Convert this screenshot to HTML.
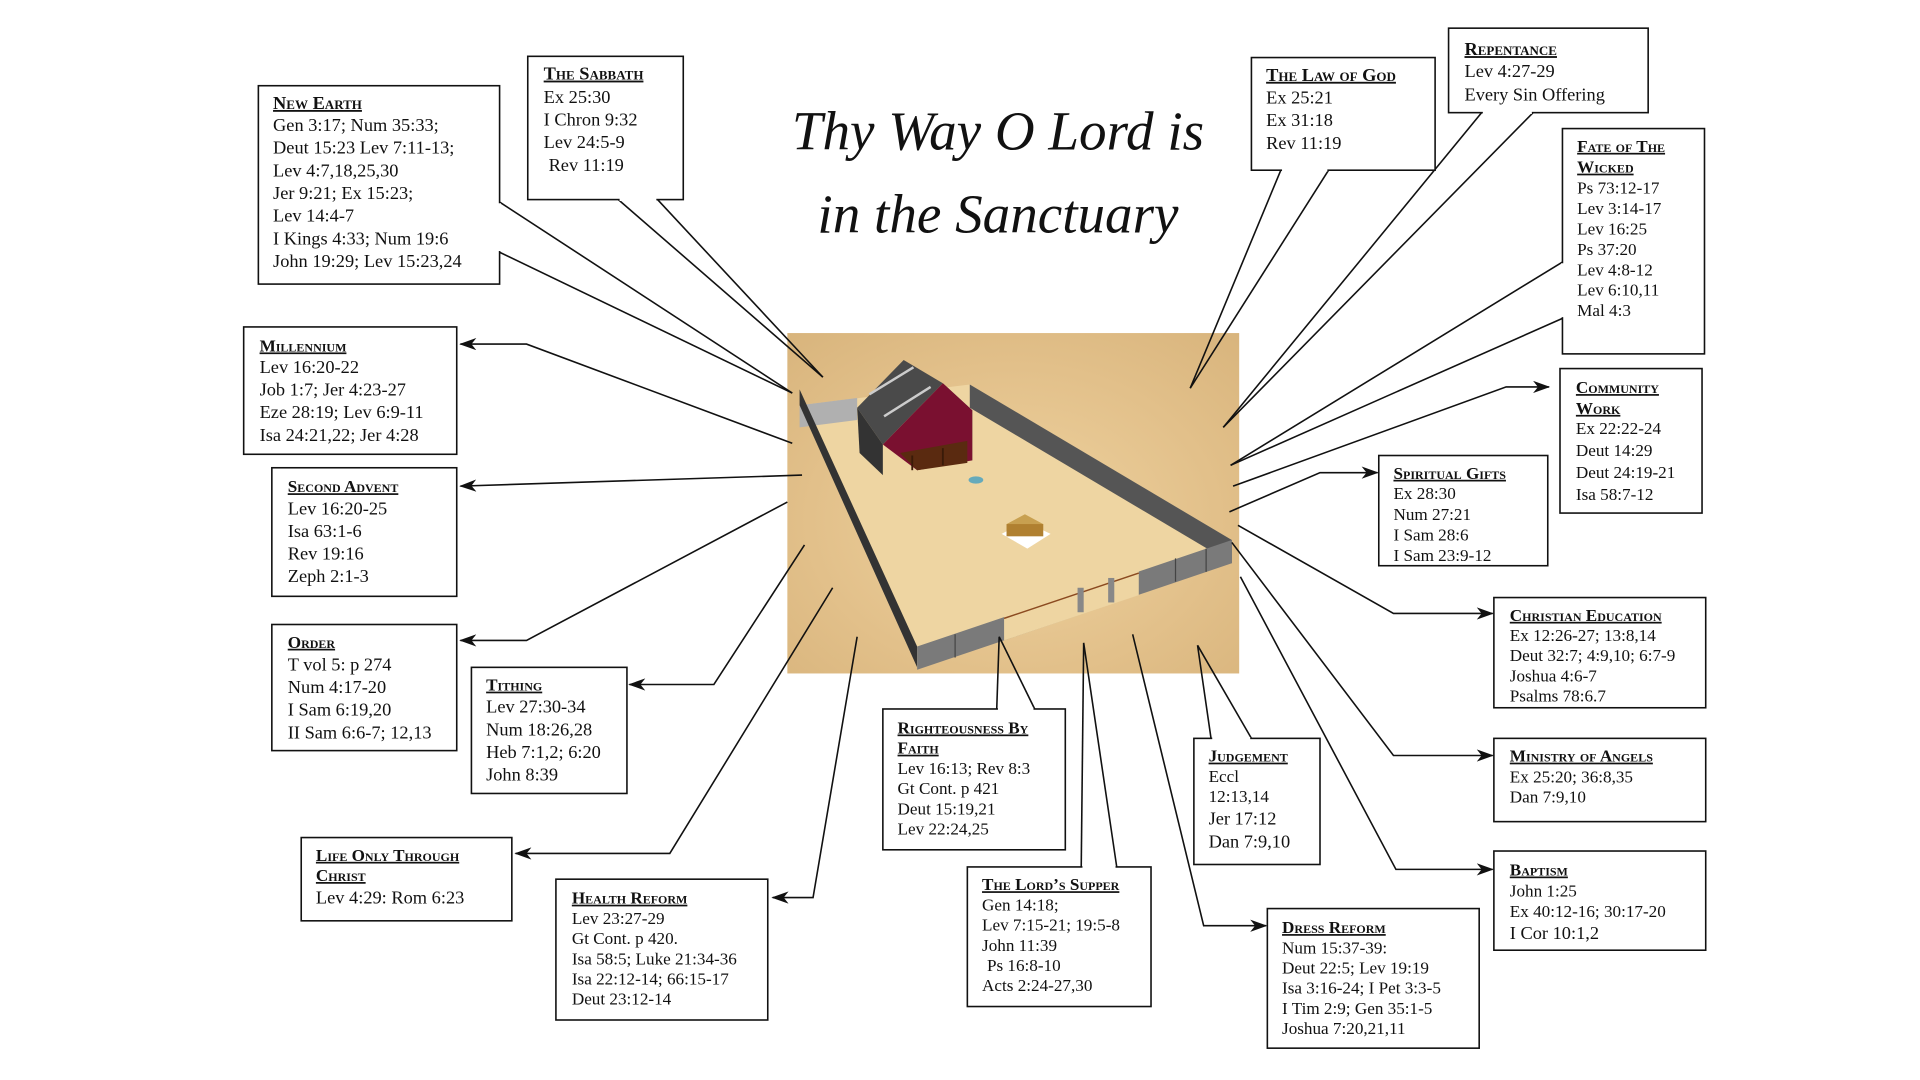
<!DOCTYPE html>
<html><head><meta charset="utf-8"><style>
html,body{margin:0;padding:0;background:#fff;}
svg{display:block;}
text{font-family:"Liberation Serif",serif;fill:#111;}
.h{font-weight:bold;font-variant:small-caps;text-decoration:underline;font-size:15px;}
.b{font-size:15px;}
.s{font-size:14px;}
.t{font-style:italic;font-size:45px;}
</style></head><body>
<svg width="1920" height="1080" viewBox="0 0 1568 882" xmlns="http://www.w3.org/2000/svg">
<defs>
<marker id="a" markerWidth="14" markerHeight="10" refX="13" refY="5" orient="auto" markerUnits="userSpaceOnUse">
<path d="M0,0 L14,5 L0,10 L4,5 z" fill="#111"/></marker>
<radialGradient id="sand" cx="0.5" cy="0.55" r="0.75">
<stop offset="0" stop-color="#efd3a0"/><stop offset="0.6" stop-color="#e2c08a"/><stop offset="1" stop-color="#d8b47c"/></radialGradient>
</defs>
<rect width="1568" height="882" fill="#fff"/>
<text class="t" x="815" y="122" text-anchor="middle">Thy Way O Lord is</text>
<text class="t" x="815" y="190" text-anchor="middle">in the Sanctuary</text>

<rect x="643" y="272" width="369" height="278" fill="url(#sand)"/>
<polygon points="653,331 792,314 1006,441 749,545" fill="#eed5a2"/>
<polygon points="653,331 700,325 700,343 653,349" fill="#b0b0b0"/>
<polygon points="792,314 1006,441 1006,460 792,333" fill="#555"/>
<polygon points="700,333 738,294 770,313 721,363" fill="#4a4a4a"/>
<polygon points="700,333 721,363 721,388 702,370" fill="#333"/>
<polygon points="770,313 794,335 794,376 770,370" fill="#3a3a3a"/>
<polygon points="721,363 770,313 794,335 794,376 749,384" fill="#7a1030"/>
<polygon points="735,370 790,360 790,378 749,384" fill="#5a2a10"/>
<line x1="745" y1="372" x2="745" y2="384" stroke="#3a1a08" stroke-width="1.5"/>
<line x1="770" y1="366" x2="770" y2="380" stroke="#3a1a08" stroke-width="1.5"/>
<line x1="710" y1="322" x2="746" y2="300" stroke="#ccc" stroke-width="2"/>
<line x1="722" y1="340" x2="760" y2="316" stroke="#ccc" stroke-width="2"/>
<ellipse cx="797" cy="392" rx="6" ry="3" fill="#6ab"/>
<polygon points="818,436 837,426 858,436 839,448" fill="#fff"/>
<polygon points="822,428 837,420 852,428 837,437" fill="#c8a050"/>
<rect x="822" y="428" width="30" height="10" fill="#b08030"/>
<polygon points="653,331 749,545 749,528 653,318" fill="#333"/>
<polygon points="749,528 1006,441 1006,460 749,547" fill="#7a7a7a"/>
<polygon points="820,503 930,466 930,486 820,523" fill="#eed5a2"/>
<line x1="820" y1="505" x2="930" y2="468" stroke="#8b4a20" stroke-width="1.2"/>
<rect x="880" y="480" width="5" height="20" fill="#888"/>
<rect x="905" y="472" width="5" height="20" fill="#888"/>
<g stroke="#444" stroke-width="1">
<line x1="780" y1="518" x2="780" y2="537"/><line x1="960" y1="456" x2="960" y2="475"/><line x1="985" y1="448" x2="985" y2="467"/>
</g>

<g stroke="#111" stroke-width="1.3" fill="none">
<polyline points="408,165 647,321"/><polyline points="408,206 647,321"/>
<polyline points="505,163 672,308"/><polyline points="537,163 672,308"/>
<polyline points="1046,139 972,317"/><polyline points="1085,139 972,317"/>
<polyline points="1210,92 999,349"/><polyline points="1252,92 999,349"/>
<polyline points="1276,214 1005,380"/><polyline points="1276,260 1005,380"/>
<polyline points="814,579 816,520"/><polyline points="845,579 816,520"/>
<polyline points="883,708 885,525"/><polyline points="912,708 885,525"/>
<polyline points="989,603 978,527"/><polyline points="1022,603 978,527"/>
<polyline points="647,362 430,281 376,281" marker-end="url(#a)"/>
<polyline points="655,388 376,397" marker-end="url(#a)"/>
<polyline points="643,410 430,523 376,523" marker-end="url(#a)"/>
<polyline points="657,445 583,559 514,559" marker-end="url(#a)"/>
<polyline points="680,480 547,697 421,697" marker-end="url(#a)"/>
<polyline points="700,520 664,733 631,733" marker-end="url(#a)"/>
<polyline points="925,518 983,756 1034,756" marker-end="url(#a)"/>
<polyline points="1013,471 1140,710 1219,710" marker-end="url(#a)"/>
<polyline points="1006,443 1138,617 1219,617" marker-end="url(#a)"/>
<polyline points="1011,429 1138,501 1219,501" marker-end="url(#a)"/>
<polyline points="1004,418 1078,386 1125,386" marker-end="url(#a)"/>
<polyline points="1007,397 1230,316 1265,316" marker-end="url(#a)"/>
</g>

<g fill="#fff" stroke="#111" stroke-width="1.3">
<rect x="211" y="70" width="197" height="162"/>
<rect x="431" y="46" width="127" height="117"/>
<rect x="1022" y="47" width="150" height="92"/>
<rect x="1183" y="23" width="163" height="69"/>
<rect x="1276" y="105" width="116" height="184"/>
<rect x="1274" y="301" width="116" height="118"/>
<rect x="1126" y="372" width="138" height="90"/>
<rect x="1220" y="488" width="173" height="90"/>
<rect x="1220" y="603" width="173" height="68"/>
<rect x="1220" y="695" width="173" height="81"/>
<rect x="1035" y="742" width="173" height="114"/>
<rect x="975" y="603" width="103" height="103"/>
<rect x="790" y="708" width="150" height="114"/>
<rect x="721" y="579" width="149" height="115"/>
<rect x="454" y="718" width="173" height="115"/>
<rect x="246" y="684" width="172" height="68"/>
<rect x="385" y="545" width="127" height="103"/>
<rect x="222" y="510" width="151" height="103"/>
<rect x="222" y="382" width="151" height="105"/>
<rect x="199" y="267" width="174" height="104"/>
</g>
<g stroke="#fff" stroke-width="2.2">
<line x1="408" y1="166" x2="408" y2="205"/>
<line x1="506" y1="163" x2="536" y2="163"/>
<line x1="1047" y1="139" x2="1084" y2="139"/>
<line x1="1211" y1="92" x2="1251" y2="92"/>
<line x1="1276" y1="215" x2="1276" y2="259"/>
<line x1="815" y1="579" x2="844" y2="579"/>
<line x1="884" y1="708" x2="911" y2="708"/>
<line x1="990" y1="603" x2="1021" y2="603"/>
</g>

<text x="223" y="89"><tspan class="h">New Earth</tspan>
<tspan class="b" x="223" y="107">Gen 3:17; Num 35:33;</tspan>
<tspan class="b" x="223" y="125.5">Deut 15:23 Lev 7:11-13;</tspan>
<tspan class="b" x="223" y="144">Lev 4:7,18,25,30</tspan>
<tspan class="b" x="223" y="162.5">Jer 9:21; Ex 15:23;</tspan>
<tspan class="b" x="223" y="181">Lev 14:4-7</tspan>
<tspan class="b" x="223" y="199.5">I Kings 4:33; Num 19:6</tspan>
<tspan class="b" x="223" y="218">John 19:29; Lev 15:23,24</tspan></text>

<text x="444" y="65"><tspan class="h">The Sabbath</tspan>
<tspan class="b" x="444" y="84">Ex 25:30</tspan>
<tspan class="b" x="444" y="102.5">I Chron 9:32</tspan>
<tspan class="b" x="444" y="121">Lev 24:5-9</tspan>
<tspan class="b" x="448" y="139.5">Rev 11:19</tspan></text>

<text x="1034" y="66"><tspan class="h">The Law of God</tspan>
<tspan class="b" x="1034" y="84.5">Ex 25:21</tspan>
<tspan class="b" x="1034" y="103">Ex 31:18</tspan>
<tspan class="b" x="1034" y="121.5">Rev 11:19</tspan></text>

<text x="1196" y="45"><tspan class="h">Repentance</tspan>
<tspan class="b" x="1196" y="63">Lev 4:27-29</tspan>
<tspan class="b" x="1196" y="82">Every Sin Offering</tspan></text>

<text x="1288" y="124"><tspan class="h" style="font-size:14px">Fate of  The</tspan>
<tspan class="h" style="font-size:14px" x="1288" y="141">Wicked</tspan>
<tspan class="s" x="1288" y="158">Ps 73:12-17</tspan>
<tspan class="s" x="1288" y="174.7">Lev 3:14-17</tspan>
<tspan class="s" x="1288" y="191.4">Lev 16:25</tspan>
<tspan class="s" x="1288" y="208.1">Ps 37:20</tspan>
<tspan class="s" x="1288" y="224.8">Lev 4:8-12</tspan>
<tspan class="s" x="1288" y="241.5">Lev 6:10,11</tspan>
<tspan class="s" x="1288" y="258.2">Mal 4:3</tspan></text>

<text x="1287" y="321"><tspan class="h" style="font-size:14px">Community</tspan>
<tspan class="h" style="font-size:14px" x="1287" y="338">Work</tspan>
<tspan class="s" x="1287" y="354.5">Ex 22:22-24</tspan>
<tspan class="s" x="1287" y="372.5">Deut 14:29</tspan>
<tspan class="s" x="1287" y="390.5">Deut 24:19-21</tspan>
<tspan class="s" x="1287" y="408.5">Isa 58:7-12</tspan></text>

<text x="1138" y="391"><tspan class="h" style="font-size:14px">Spiritual Gifts</tspan>
<tspan class="s" x="1138" y="407.5">Ex 28:30</tspan>
<tspan class="s" x="1138" y="424.5">Num 27:21</tspan>
<tspan class="s" x="1138" y="441.5">I Sam 28:6</tspan>
<tspan class="s" x="1138" y="458">I Sam 23:9-12</tspan></text>

<text x="1233" y="507"><tspan class="h" style="font-size:14px">Christian Education</tspan>
<tspan class="s" x="1233" y="523.5">Ex 12:26-27; 13:8,14</tspan>
<tspan class="s" x="1233" y="540">Deut 32:7; 4:9,10; 6:7-9</tspan>
<tspan class="s" x="1233" y="556.5">Joshua 4:6-7</tspan>
<tspan class="s" x="1233" y="573">Psalms 78:6.7</tspan></text>

<text x="1233" y="622"><tspan class="h" style="font-size:14px">Ministry of Angels</tspan>
<tspan class="s" x="1233" y="639">Ex 25:20; 36:8,35</tspan>
<tspan class="s" x="1233" y="655.5">Dan 7:9,10</tspan></text>

<text x="1233" y="715"><tspan class="h" style="font-size:14px">Baptism</tspan>
<tspan class="s" x="1233" y="732">John 1:25</tspan>
<tspan class="s" x="1233" y="749">Ex 40:12-16; 30:17-20</tspan>
<tspan class="b" x="1233" y="767">I Cor 10:1,2</tspan></text>

<text x="1047" y="762"><tspan class="h" style="font-size:14px">Dress Reform</tspan>
<tspan class="s" x="1047" y="778.5">Num 15:37-39:</tspan>
<tspan class="s" x="1047" y="795">Deut 22:5; Lev 19:19</tspan>
<tspan class="s" x="1047" y="811.5">Isa 3:16-24; I Pet 3:3-5</tspan>
<tspan class="s" x="1047" y="828">I Tim 2:9; Gen 35:1-5</tspan>
<tspan class="s" x="1047" y="844.5">Joshua 7:20,21,11</tspan></text>

<text x="987" y="622"><tspan class="h" style="font-size:14px">Judgement</tspan>
<tspan class="s" x="987" y="638.5">Eccl</tspan>
<tspan class="s" x="987" y="655">12:13,14</tspan>
<tspan class="b" x="987" y="673.5">Jer 17:12</tspan>
<tspan class="b" x="987" y="692">Dan 7:9,10</tspan></text>

<text x="802" y="727"><tspan class="h" style="font-size:14px">The Lord’s Supper</tspan>
<tspan class="s" x="802" y="743.5">Gen 14:18;</tspan>
<tspan class="s" x="802" y="760">Lev 7:15-21; 19:5-8</tspan>
<tspan class="s" x="802" y="776.5">John 11:39</tspan>
<tspan class="s" x="806" y="793">Ps 16:8-10</tspan>
<tspan class="s" x="802" y="809.5">Acts 2:24-27,30</tspan></text>

<text x="733" y="599"><tspan class="h" style="font-size:14px">Righteousness By</tspan>
<tspan class="h" style="font-size:14px" x="733" y="615.5">Faith</tspan>
<tspan class="s" x="733" y="632">Lev 16:13; Rev 8:3</tspan>
<tspan class="s" x="733" y="648.5">Gt Cont. p 421</tspan>
<tspan class="s" x="733" y="665">Deut 15:19,21</tspan>
<tspan class="s" x="733" y="681.5">Lev 22:24,25</tspan></text>

<text x="467" y="738"><tspan class="h" style="font-size:14px">Health Reform</tspan>
<tspan class="s" x="467" y="754.5">Lev 23:27-29</tspan>
<tspan class="s" x="467" y="771">Gt Cont. p 420.</tspan>
<tspan class="s" x="467" y="787.5">Isa 58:5; Luke 21:34-36</tspan>
<tspan class="s" x="467" y="804">Isa 22:12-14; 66:15-17</tspan>
<tspan class="s" x="467" y="820.5">Deut 23:12-14</tspan></text>

<text x="258" y="703"><tspan class="h" style="font-size:14px">Life Only Through</tspan>
<tspan class="h" style="font-size:14px" x="258" y="719.5">Christ</tspan>
<tspan class="b" x="258" y="738">Lev 4:29: Rom 6:23</tspan></text>

<text x="397" y="564"><tspan class="h" style="font-size:14px">Tithing</tspan>
<tspan class="b" x="397" y="582">Lev 27:30-34</tspan>
<tspan class="b" x="397" y="600.5">Num 18:26,28</tspan>
<tspan class="b" x="397" y="619">Heb 7:1,2; 6:20</tspan>
<tspan class="b" x="397" y="637.5">John 8:39</tspan></text>

<text x="235" y="529"><tspan class="h" style="font-size:14px">Order</tspan>
<tspan class="b" x="235" y="547.5">T vol 5: p 274</tspan>
<tspan class="b" x="235" y="566">Num 4:17-20</tspan>
<tspan class="b" x="235" y="584.5">I Sam 6:19,20</tspan>
<tspan class="b" x="235" y="603">II Sam 6:6-7; 12,13</tspan></text>

<text x="235" y="402"><tspan class="h" style="font-size:14px">Second Advent</tspan>
<tspan class="b" x="235" y="420">Lev 16:20-25</tspan>
<tspan class="b" x="235" y="438.5">Isa 63:1-6</tspan>
<tspan class="b" x="235" y="457">Rev 19:16</tspan>
<tspan class="b" x="235" y="475.5">Zeph 2:1-3</tspan></text>

<text x="212" y="287"><tspan class="h" style="font-size:14px">Millennium</tspan>
<tspan class="b" x="212" y="304.5">Lev 16:20-22</tspan>
<tspan class="b" x="212" y="323">Job 1:7; Jer 4:23-27</tspan>
<tspan class="b" x="212" y="341.5">Eze 28:19; Lev 6:9-11</tspan>
<tspan class="b" x="212" y="360">Isa 24:21,22; Jer 4:28</tspan></text>
</svg>
</body></html>
